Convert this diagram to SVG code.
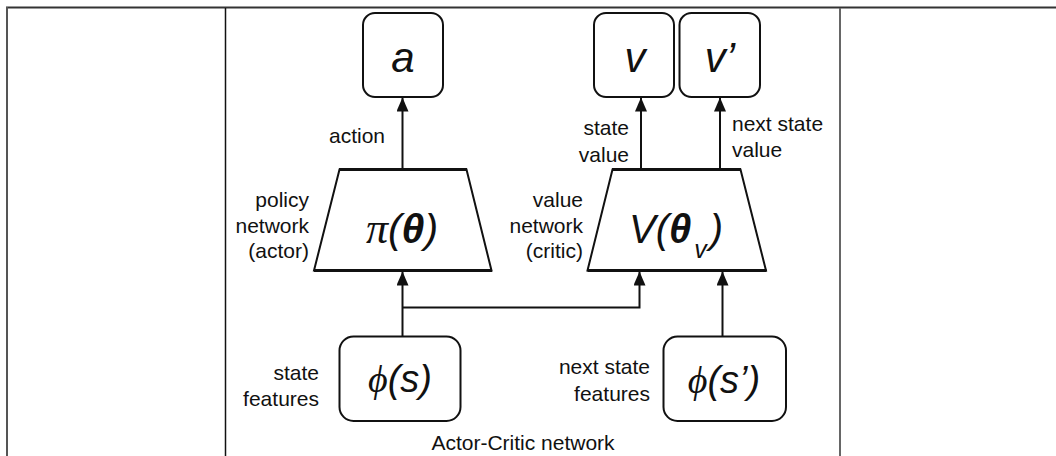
<svg xmlns="http://www.w3.org/2000/svg" width="1056" height="456" viewBox="0 0 1056 456">
<defs>
<style>
.lbl{font-family:"Liberation Sans",Arial,sans-serif;font-size:21px;fill:#111}
.r{text-anchor:end}
.m{text-anchor:middle}
.box{fill:#fff;stroke:#111;stroke-width:2}
.trap{fill:#fff;stroke:#111;stroke-width:2;stroke-linejoin:miter}
.trapedge{stroke:#111;stroke-width:3.2}
.sym{font-family:"Liberation Sans",Arial,sans-serif;font-style:italic;fill:#111}
.ser{font-family:"Liberation Serif","DejaVu Serif",serif;font-style:italic}
.bt{font-weight:bold}
.conn{fill:none;stroke:#111;stroke-width:2}
</style>
<marker id="arr" markerUnits="userSpaceOnUse" markerWidth="14" markerHeight="12" viewBox="0 0 14 12" refX="14" refY="6" orient="auto">
<path d="M0,0 L14,6 L0,12 z" fill="#111"/>
</marker>
</defs>
<rect width="1056" height="456" fill="#fff"/>
<g id="table">
<line x1="6" y1="7.5" x2="1056" y2="7.5" stroke="#333" stroke-width="2"/>
<line x1="7" y1="7" x2="7" y2="456" stroke="#555" stroke-width="2"/>
<line x1="225.5" y1="8" x2="225.5" y2="456" stroke="#111" stroke-width="1.5"/>
<line x1="840" y1="8" x2="840" y2="456" stroke="#666" stroke-width="2"/>
</g>
<g id="connectors">
<path class="conn" d="M402.5,169 L402.5,97.5" marker-end="url(#arr)"/>
<path class="conn" d="M641,169 L641,97.5" marker-end="url(#arr)"/>
<path class="conn" d="M720,169 L720,97.5" marker-end="url(#arr)"/>
<path class="conn" d="M402.5,336.5 L402.5,271.5" marker-end="url(#arr)"/>
<path class="conn" d="M402.5,307.5 L639.5,307.5 L639.5,271.5" marker-end="url(#arr)"/>
<path class="conn" d="M722.5,336.5 L722.5,271.5" marker-end="url(#arr)"/>
</g>
<g id="node-a">
<rect class="box" x="363" y="13" width="80" height="84" rx="12"/>
<text class="sym m" x="403" y="72" font-size="42">a</text>
</g>
<g id="node-v">
<rect class="box" x="594" y="13" width="80" height="84" rx="12"/>
<text class="sym m" x="635" y="72" font-size="42">v</text>
</g>
<g id="node-v2">
<rect class="box" x="679.5" y="13" width="80.5" height="84" rx="12"/>
<text class="sym m" x="720" y="72" font-size="42">v’</text>
</g>
<g id="node-policy">
<path class="trap" d="M339.5,169.5 L466.5,169.5 L491.5,270.5 L314,270.5 Z"/>
<line class="trapedge" x1="339" y1="169.5" x2="467" y2="169.5"/>
<line class="trapedge" x1="314" y1="270.5" x2="492" y2="270.5"/>
<text class="sym m" x="402" y="243" font-size="41"><tspan class="ser" font-size="44">π</tspan>(<tspan class="bt">θ</tspan>)</text>
</g>
<g id="node-value">
<path class="trap" d="M612.5,169.5 L740.5,169.5 L766,270.5 L587.5,270.5 Z"/>
<line class="trapedge" x1="612" y1="169.5" x2="741" y2="169.5"/>
<line class="trapedge" x1="587.5" y1="270.5" x2="766.5" y2="270.5"/>
<text class="sym" x="629" y="243" font-size="40">V(<tspan class="bt">θ</tspan><tspan font-size="25" dx="3" dy="15">v</tspan><tspan dx="3" dy="-15">)</tspan></text>
</g>
<g id="node-phis">
<rect class="box" x="339.5" y="336.5" width="121" height="84.5" rx="14"/>
<text class="sym m" x="400" y="392" font-size="38"><tspan class="ser">ϕ</tspan>(s)</text>
</g>
<g id="node-phis2">
<rect class="box" x="663.5" y="336.5" width="122.5" height="84.5" rx="14"/>
<text class="sym m" x="724" y="393" font-size="38"><tspan class="ser">ϕ</tspan>(s’)</text>
</g>
<g id="labels">
<text class="lbl m" x="357" y="143">action</text>
<text class="lbl r" x="629" y="135">state</text>
<text class="lbl r" x="629" y="162">value</text>
<text class="lbl" x="732" y="131">next state</text>
<text class="lbl" x="732" y="157">value</text>
<text class="lbl r" x="309" y="207">policy</text>
<text class="lbl r" x="309" y="233">network</text>
<text class="lbl r" x="309" y="258">(actor)</text>
<text class="lbl r" x="583" y="207">value</text>
<text class="lbl r" x="583" y="233">network</text>
<text class="lbl r" x="583" y="258">(critic)</text>
<text class="lbl r" x="319" y="380">state</text>
<text class="lbl r" x="319" y="406">features</text>
<text class="lbl r" x="650" y="374">next state</text>
<text class="lbl r" x="650" y="401">features</text>
<text class="lbl m" x="523" y="450">Actor-Critic network</text>
</g>
</svg>
